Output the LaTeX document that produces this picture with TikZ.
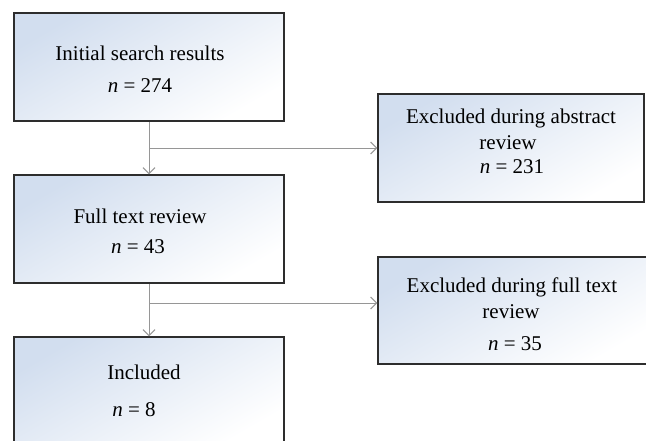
\documentclass[tikz,border=0pt]{standalone}
\usepackage{fontspec}
\setmainfont{Liberation Serif}
\usetikzlibrary{arrows.meta}
\definecolor{boxblue}{RGB}{210,222,239}
\definecolor{linkgray}{RGB}{150,150,150}
\definecolor{edgegray}{RGB}{45,45,45}
\tikzset{
  stagebox/.style={draw=edgegray, line width=1.4pt, rectangle, inner sep=0pt,
    minimum width=270pt, minimum height=108pt,
    top color=boxblue, middle color=boxblue!55, bottom color=white, shading angle=30},
  stageline/.style={anchor=base, inner sep=0pt, font=\fontsize{21}{25}\selectfont},
  link/.style={draw=linkgray, line width=1pt, shorten <=0.7pt,
    -{Straight Barb[length=6pt,width=12pt]}}
}
\begin{document}
\begin{tikzpicture}[x=1pt,y=-1pt]
\clip (0,0) rectangle (646,440);
% boxes
\node[stagebox] (initial) at (149,67) {};
\node[stagebox] (fulltext) at (149,229) {};
\node[stagebox] (included) at (149,391) {};
\node[stagebox, minimum width=266pt] (abstractex) at (511,148) {};
\node[stagebox, minimum width=272pt, minimum height=107pt] (fulltextex) at (514,310.5) {};
% texts
\node[stageline] (initial-a) at (140,60) {Initial search results};
\node[stageline] (initial-b) at (140,92) {\textit{n} = 274};
\node[stageline] (fulltext-a) at (140,223) {Full text review};
\node[stageline] (fulltext-b) at (138,253) {\textit{n} = 43};
\node[stageline] (included-a) at (144,379) {Included};
\node[stageline] (included-b) at (134,416) {\textit{n} = 8};
\node[stageline] (abstractex-a) at (511,123) {Excluded during abstract};
\node[stageline] (abstractex-b) at (508,149) {review};
\node[stageline] (abstractex-c) at (512,173) {\textit{n} = 231};
\node[stageline] (fulltextex-a) at (512,292) {Excluded during full text};
\node[stageline] (fulltextex-b) at (511,318) {review};
\node[stageline] (fulltextex-c) at (515,350) {\textit{n} = 35};
% links
\coordinate (split1) at (initial.south |- abstractex.west);
\coordinate (split2) at (fulltext.south |- 0,303);
\draw[link] (initial.south) -- (fulltext.north);
\draw[link] (split1) -- (abstractex.west);
\draw[link] (fulltext.south) -- (included.north);
\draw[link] (split2) -- (split2 -| fulltextex.west);
\end{tikzpicture}
\end{document}
